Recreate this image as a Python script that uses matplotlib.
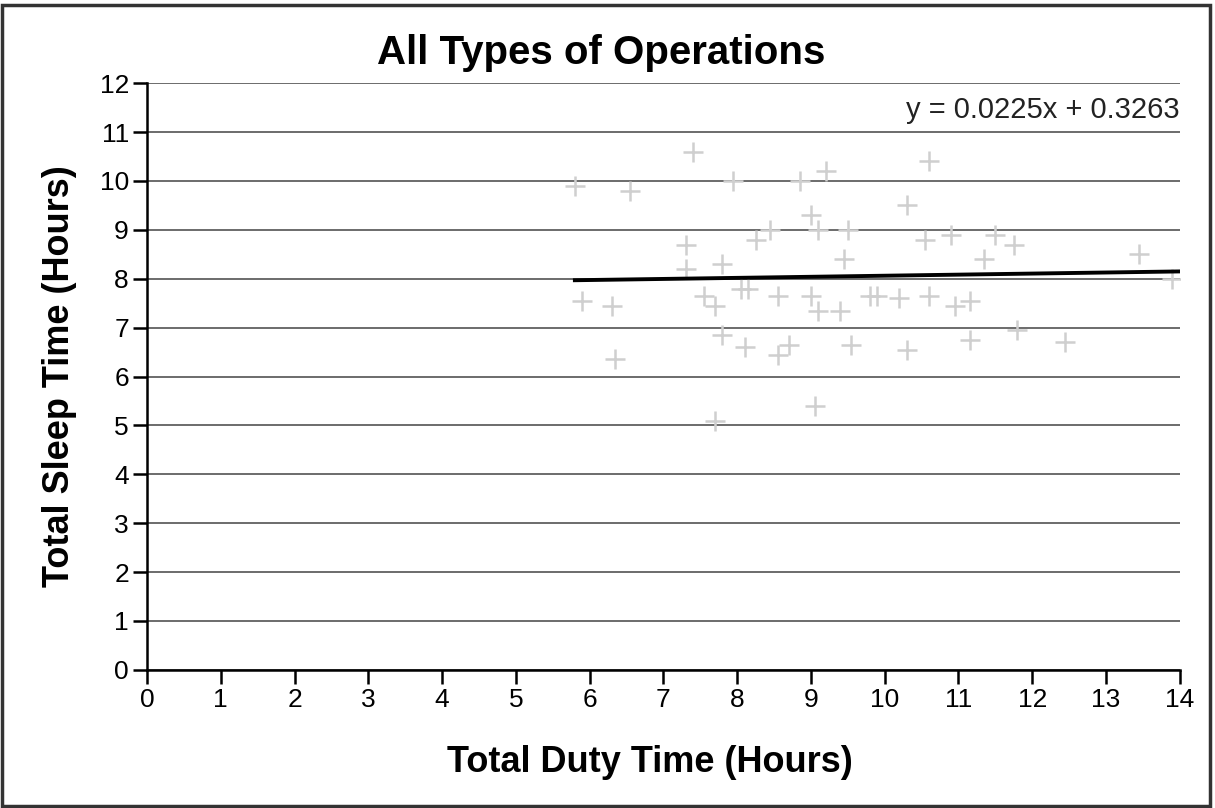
import matplotlib.pyplot as plt
from matplotlib.patches import Rectangle

# Sleep vs duty time
duty_hours = [5.8, 6.55, 6.35, 7.4, 7.95, 8.85, 9.2, 10.6, 9.0, 7.3,
              8.25, 8.45, 9.1, 9.5, 10.3, 10.55, 10.9, 11.75, 11.5, 11.35,
              13.45, 13.9, 7.3, 7.8, 9.45, 7.55, 7.7, 8.05, 8.15, 8.55,
              9.0, 9.1, 9.4, 9.8, 9.9, 10.2, 10.6, 10.95, 11.15, 7.8,
              8.1, 8.55, 8.7, 9.55, 10.3, 11.15, 12.45, 11.8, 9.05, 7.7,
              6.3, 5.9]
sleep_hours = [9.9, 9.8, 6.35, 10.6, 10.0, 10.0, 10.2, 10.4, 9.3, 8.7,
               8.8, 9.0, 9.0, 9.0, 9.5, 8.8, 8.9, 8.7, 8.9, 8.4,
               8.5, 8.0, 8.2, 8.3, 8.4, 7.65, 7.45, 7.8, 7.8, 7.65,
               7.65, 7.35, 7.35, 7.65, 7.65, 7.6, 7.65, 7.45, 7.55, 6.85,
               6.6, 6.45, 6.65, 6.65, 6.55, 6.75, 6.7, 6.95, 5.4, 5.1,
               7.45, 7.55]

# trend line ends as drawn in the chart
trend_x = [5.8, 14.0]
trend_y = [7.97, 8.15]
trend_label = 'y = 0.0225x + 0.3263'

plt.rcParams['font.family'] = ['Liberation Sans', 'DejaVu Sans']

fig = plt.figure(figsize=(12.15, 8.08), dpi=100)
ax = fig.add_axes([0.121, 0.171, 0.85, 0.726])

ax.scatter(duty_hours, sleep_hours, marker='+', s=200, color='#cfcfcf',
           linewidths=1.8, zorder=2)
ax.plot(trend_x, trend_y, color='black', lw=2.8, zorder=3)

ax.set_xlim(0, 14)
ax.set_ylim(0, 12)
ax.set_xticks(range(0, 15))
ax.set_yticks(range(0, 13))
ax.yaxis.grid(True, color='#606060', lw=1.3)
ax.set_axisbelow(True)
for side in ['top', 'right']:
    ax.spines[side].set_visible(False)
for side in ['left', 'bottom']:
    ax.spines[side].set_linewidth(1.8)
ax.tick_params(axis='both', direction='out', length=10, width=1.8,
               labelsize=19, colors='black', pad=3)

# title sits a bit left of the plot centre in the original
ax.set_title('All Types of Operations', fontsize=29, fontweight='bold', x=0.44, pad=14)
ax.set_xlabel('Total Duty Time (Hours)', fontsize=26, fontweight='bold')
ax.xaxis.set_label_coords(0.487, -0.128)
ax.set_ylabel('Total Sleep Time (Hours)', fontsize=26, fontweight='bold', labelpad=16)
ax.text(1.0, 0.955, trend_label, transform=ax.transAxes, ha='right',
        va='center', fontsize=21, color='#222222')

# frame around the whole picture
fig.patches.append(Rectangle((0.002, 0.003), 0.994, 0.991, transform=fig.transFigure,
                             fill=False, edgecolor='#333333', lw=2.5))

plt.savefig('out.png', dpi=100)
